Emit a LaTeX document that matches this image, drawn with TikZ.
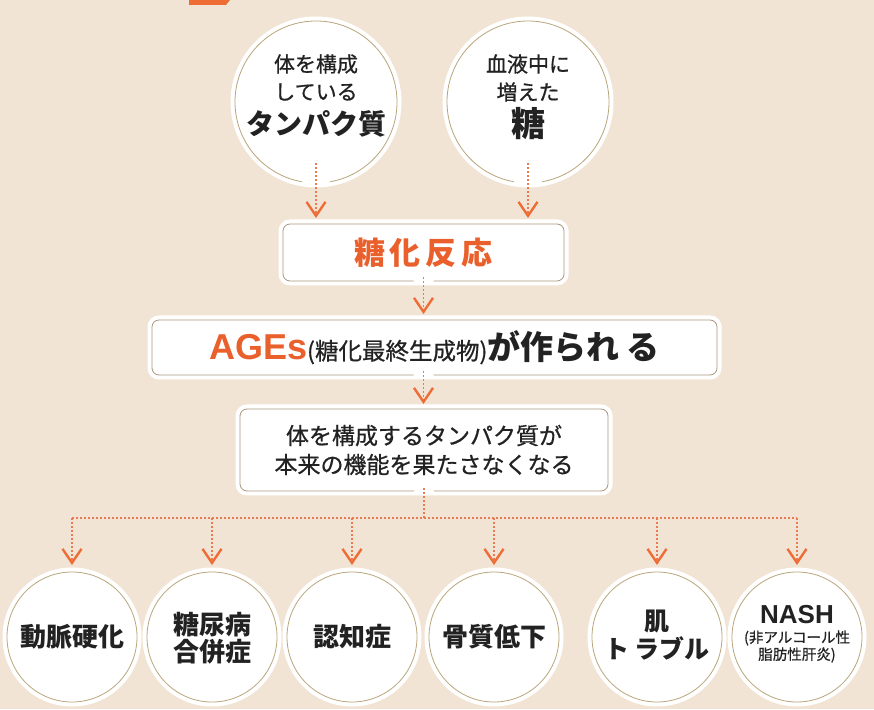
\documentclass[tikz,border=0pt]{standalone}
\usepackage{fontspec}
\usetikzlibrary{arrows.meta}
\newfontfamily\jp{Noto Sans CJK JP}
\newfontfamily\jpm{Noto Sans CJK JP}[FakeBold=0.7]
\newfontfamily\lat{Liberation Sans}
\definecolor{bg}{HTML}{F2E4D5}
\definecolor{orng}{HTML}{EE6D36}
\definecolor{dotc}{HTML}{E97A52}
\definecolor{ortext}{HTML}{E9602C}
\definecolor{ring}{HTML}{B9A57C}
\definecolor{boxln}{HTML}{A8977E}
\definecolor{ink}{HTML}{222222}
\tikzset{
  halocirc/.style={circle, fill=white, draw=white, line width=9pt, minimum size=#1, inner sep=0pt, outer sep=0pt, text=ink},
  halobox/.style={rectangle, rounded corners=7pt, fill=white, draw=white, line width=9pt, inner sep=0pt, outer sep=0pt, text=ink},
  ringline/.style={draw=ring, line width=0.8pt},
  boxline/.style={draw=boxln, line width=0.8pt, rounded corners=7pt},
  dotline/.style={draw=dotc, line width=1.9pt, dash pattern=on 1.9pt off 2.1pt},
  conn/.style={dotline, -{Straight Barb[length=14pt, width=19pt, line width=2.4pt, color=orng]}},
  txt/.style={inner sep=0pt, outer sep=0pt, text=ink, font=\jpm\fontsize{#1}{#1}\selectfont},
  btxt/.style={inner sep=0pt, outer sep=0pt, text=ink, font=\jp\bfseries\fontsize{#1}{#1}\selectfont},
}
\begin{document}
\begin{tikzpicture}[x=1pt,y=1pt]
\fill[bg] (0,0) rectangle (874,709);
\useasboundingbox (0,0) rectangle (874,709);
\fill[orng] (189,709) -- (230,709) -- (226,704) -- (189,704) -- cycle;

% top circles
\node[halocirc=162pt] (c1) at (316,607) {};
\node[halocirc=162pt] (c2) at (528,607) {};
\draw[ringline] (c1.center) ++(-80:81) arc[start angle=-80, end angle=260, radius=81];
\draw[ringline] (c2.center) ++(-80:81) arc[start angle=-80, end angle=260, radius=81];
\node[txt=21] (c1a) at ([yshift=38]c1.center) {体を構成};
\node[txt=21] (c1b) at ([yshift=10]c1.center) {している};
\node[btxt=28] (c1c) at ([yshift=-22]c1.center) {タンパク質};
\node[txt=21] (c2a) at ([yshift=38]c2.center) {血液中に};
\node[txt=21] (c2b) at ([yshift=10]c2.center) {増えた};
\node[btxt=34] (c2c) at ([yshift=-22]c2.center) {糖};

% boxes
\node[halobox, minimum width=281pt, minimum height=57pt, text=ortext, font=\jp\bfseries\fontsize{31}{31}\selectfont] (k1) at (423.5,456.5) {糖\hspace{5pt}化\hspace{5pt}反\hspace{5pt}応};
\draw[boxline] ([xshift=10pt]k1.south) -| (k1.north east) -| (k1.south west) -- ([xshift=-10pt]k1.south);

\node[halobox, minimum width=565pt, minimum height=55pt] (k2) at (434.5,361.5)
  {{\lat\bfseries\fontsize{36}{36}\selectfont\color{ortext}AGEs}{\jpm\fontsize{23.5}{23.5}\selectfont (糖化最終生成物)}{\jp\bfseries\fontsize{33}{33}\selectfont が作られ る}};
\coordinate (k2g) at (k1.south |- k2.south);
\draw[boxline] ([xshift=10pt]k2g) -| (k2.north east) -| (k2.south west) -- ([xshift=-10pt]k2g);

\node[halobox, minimum width=368pt, minimum height=82pt, align=center, font=\jpm\fontsize{23}{29}\selectfont] (k3) at (424,259)
  {体を構成するタンパク質が\\本来の機能を果たさなくなる};
\draw[boxline] ([xshift=10pt]k3.south) -| (k3.north east) -| (k3.south west) -- ([xshift=-10pt]k3.south);

% bottom circles
\foreach \n/\x in {b1/72, b2/212, b3/352, b4/494, b5/657, b6/797}{
  \node[halocirc=130pt] (\n) at (\x,72) {};
  \draw[ringline] (\n.center) circle[radius=65];
}
\node[btxt=26] (b1t) at (b1.center) {動脈硬化};
\node[btxt=26] (b2a) at ([yshift=12]b2.center) {糖尿病};
\node[btxt=26] (b2b) at ([yshift=-15]b2.center) {合併症};
\node[btxt=26] (b3t) at (b3.center) {認知症};
\node[btxt=26] (b4t) at (b4.center) {骨質低下};
\node[btxt=25] (b5a) at ([yshift=15]b5.center) {肌};
\node[btxt=25] (b5b) at ([yshift=-11]b5.center) {ト ラブル};
\node[inner sep=0pt, text=ink, font=\lat\bfseries\fontsize{26}{26}\selectfont] (b6a) at ([yshift=22]b6.center) {NASH};
\node[txt=14.5] (b6b) at ([yshift=-1]b6.center) {(非アルコール性};
\node[txt=14.5] (b6c) at ([yshift=-18]b6.center) {脂肪性肝炎)};

% connectors
\draw[conn] ([yshift=20pt]c1.south) -- ([yshift=6pt]c1.south |- k1.north);
\draw[conn] ([yshift=20pt]c2.south) -- ([yshift=6pt]c2.south |- k1.north);
\coordinate (t2) at (k1.south |- k2.north);
\draw[conn] ([yshift=4pt]k1.south) -- ([yshift=6pt]t2);
\coordinate (t3) at (k1.south |- k3.north);
\draw[conn] ([yshift=4pt]k2g) -- ([yshift=5pt]t3);
\coordinate (hub) at (424,191);
\draw[dotline] ([yshift=3pt]k3.south) -- (hub);
\coordinate (h1) at (b1.center |- hub);
\coordinate (h6) at (b6.center |- hub);
\draw[dotline] (h1) -- (h6);
\foreach \n in {b1,b2,b3,b4,b5,b6}{
  \draw[conn] (\n.center |- hub) -- ([yshift=7pt]\n.north);
}
\end{tikzpicture}
\end{document}
